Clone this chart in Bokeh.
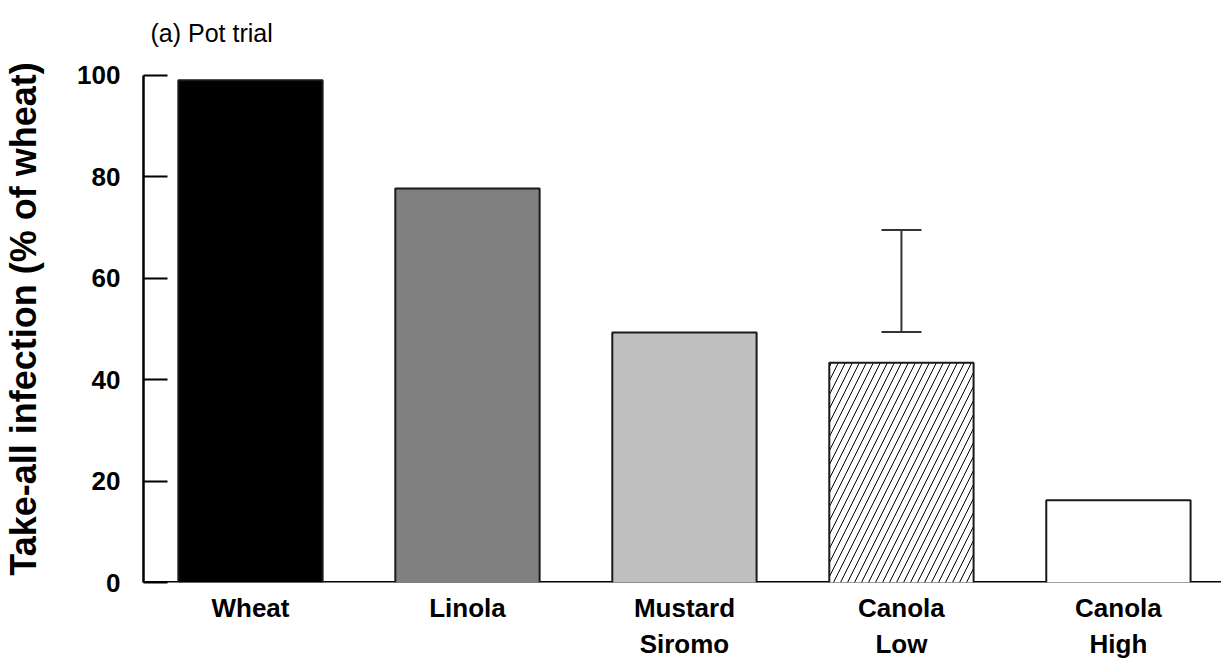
from bokeh.plotting import figure
from bokeh.models import ColumnDataSource, Range1d, FixedTicker, Whisker, TeeHead
from bokeh.embed import file_html
from bokeh.resources import INLINE

# ---- data ----
categories = ["Wheat", "Linola", "Mustard\nSiromo", "Canola\nLow", "Canola\nHigh"]
values = [99.0, 77.7, 49.3, 43.3, 16.2]
fill_colors = ["#000000", "#808080", "#c0c0c0", "#ffffff", "#ffffff"]
hatches = [" ", " ", " ", "/", " "]
lsd_index = 4          # error bar drawn over "Canola Low"
lsd_lower = [49.4]
lsd_upper = [69.5]
y_ticks = [0, 20, 40, 60, 80, 100]

positions = list(range(1, len(categories) + 1))
bar_w = 0.665
x_start, x_end = 0.507, 5.475

p = figure(width=1221, height=661, output_backend="svg", toolbar_location=None,
           x_range=Range1d(x_start, x_end), y_range=Range1d(0, 103.9),
           title="(a) Pot trial", min_border_left=143, min_border_right=0,
           min_border_top=55, min_border_bottom=78)
p.outline_line_color = None
p.grid.visible = False
p.background_fill_color = "white"

p.title.text_font = "Liberation Sans"
p.title.text_font_size = "25px"
p.title.text_font_style = "normal"
p.title.text_color = "black"
p.title.offset = 7
p.title.standoff = 17

# baseline (drawn under bars)
p.segment(x0=[x_start], x1=[x_end], y0=[0], y1=[0], line_color="black", line_width=3)

src = ColumnDataSource(dict(x=positions, top=values, color=fill_colors, hatch=hatches,
                            bottom=[-0.45] * len(values)))
p.vbar(x="x", top="top", bottom="bottom", width=bar_w, source=src,
       fill_color="color", line_color=None,
       hatch_pattern="hatch", hatch_color="black", hatch_scale=14, hatch_weight=1)

xs = [[x - bar_w / 2, x - bar_w / 2, x + bar_w / 2, x + bar_w / 2] for x in positions]
ys = [[0, v, v, 0] for v in values]
p.multi_line(xs=xs, ys=ys, line_color="#1a1a1a", line_width=2)

wsrc = ColumnDataSource(dict(base=[positions[lsd_index - 1]], lower=lsd_lower, upper=lsd_upper))
p.add_layout(Whisker(base="base", lower="lower", upper="upper", source=wsrc,
                     line_color="#333333", line_width=2,
                     upper_head=TeeHead(size=40, line_color="#333333", line_width=2),
                     lower_head=TeeHead(size=40, line_color="#333333", line_width=2)))

# y axis
ya = p.yaxis[0]
ya.ticker = FixedTicker(ticks=y_ticks)
ya.bounds = (0, 100)
ya.axis_line_width = 2.5
ya.axis_line_color = "black"
ya.major_tick_in = 24
ya.major_tick_out = 0
ya.major_tick_line_width = 2
ya.minor_tick_line_color = None
ya.major_label_standoff = 23
ya.major_label_text_font = "Liberation Sans"
ya.major_label_text_font_style = "bold"
ya.major_label_text_font_size = "26px"
ya.major_label_text_color = "black"
ya.axis_label = "Take-all infection (% of wheat)"
ya.axis_label_text_font = "Liberation Sans"
ya.axis_label_text_font_style = "bold"
ya.axis_label_text_font_size = "36px"
ya.axis_label_text_color = "black"
ya.axis_label_standoff = 30

# x axis
xa = p.xaxis[0]
xa.ticker = FixedTicker(ticks=positions)
xa.major_label_overrides = {pos: lab for pos, lab in zip(positions, categories)}
xa.axis_line_color = None
xa.major_tick_line_color = None
xa.minor_tick_line_color = None
xa.major_label_standoff = 4
xa.major_label_text_font = "Liberation Sans"
xa.major_label_text_font_style = "bold"
xa.major_label_text_font_size = "26px"
xa.major_label_text_color = "black"

open("out.html", "w").write(file_html(p, INLINE))
